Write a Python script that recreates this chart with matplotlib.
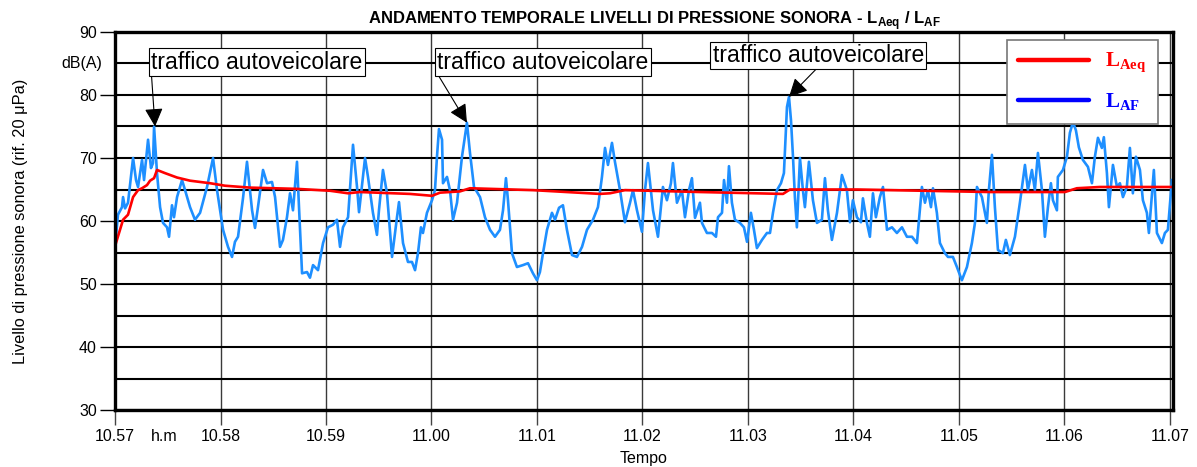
import matplotlib
matplotlib.use("Agg")
import matplotlib.pyplot as plt
from matplotlib.lines import Line2D

plt.rcParams['font.family'] = ['Liberation Sans', 'DejaVu Sans']
plt.rcParams['mathtext.fontset'] = 'custom'
plt.rcParams['mathtext.rm'] = 'Liberation Serif:bold'
plt.rcParams['mathtext.sf'] = 'Liberation Sans:bold'

# minuti dalle 10.57
t_af = [0.0, 0.028, 0.066, 0.076, 0.095, 0.123, 0.171, 0.199, 0.218, 0.256, 0.275, 0.313, 0.341,
        0.360, 0.370, 0.398, 0.427, 0.455, 0.493, 0.512, 0.540, 0.559, 0.588, 0.635, 0.664, 0.711,
        0.758, 0.806, 0.872, 0.929, 0.967, 1.024, 1.071, 1.109, 1.137, 1.166, 1.213, 1.251, 1.299,
        1.327, 1.355, 1.403, 1.441, 1.488, 1.517, 1.564, 1.592, 1.630, 1.659, 1.687, 1.725, 1.744,
        1.773, 1.820, 1.848, 1.877, 1.924, 1.972, 2.019, 2.066, 2.104, 2.133, 2.161, 2.209, 2.256,
        2.294, 2.313, 2.370, 2.398, 2.445, 2.483, 2.502, 2.540, 2.578, 2.626, 2.673, 2.692, 2.730,
        2.777, 2.815, 2.844, 2.872, 2.900, 2.919, 2.957, 3.005, 3.033, 3.052, 3.071, 3.100, 3.109,
        3.147, 3.175, 3.204, 3.242, 3.289, 3.336, 3.365, 3.403, 3.460, 3.507, 3.555, 3.602, 3.649,
        3.678, 3.706, 3.725, 3.763, 3.810, 3.867, 3.915, 3.962, 4.000, 4.028, 4.057, 4.095, 4.142,
        4.171, 4.209, 4.246, 4.284, 4.332, 4.379, 4.427, 4.474, 4.531, 4.578, 4.616, 4.645, 4.673,
        4.711, 4.739, 4.787, 4.834, 4.882, 4.910, 4.948, 4.995, 5.024, 5.052, 5.100, 5.147, 5.194,
        5.232, 5.270, 5.289, 5.327, 5.374, 5.403, 5.441, 5.469, 5.498, 5.545, 5.564, 5.611, 5.659,
        5.697, 5.716, 5.754, 5.773, 5.801, 5.820, 5.848, 5.877, 5.924, 5.962, 5.991, 6.028, 6.057,
        6.085, 6.133, 6.180, 6.209, 6.237, 6.275, 6.313, 6.341, 6.370, 6.389, 6.408, 6.427, 6.445,
        6.464, 6.493, 6.521, 6.540, 6.578, 6.616, 6.654, 6.701, 6.730, 6.758, 6.796, 6.844, 6.891,
        6.938, 6.967, 6.995, 7.033, 7.071, 7.090, 7.128, 7.156, 7.185, 7.213, 7.251, 7.280, 7.318,
        7.365, 7.412, 7.460, 7.507, 7.555, 7.602, 7.649, 7.678, 7.706, 7.735, 7.754, 7.791, 7.820,
        7.867, 7.896, 7.943, 7.981, 8.028, 8.076, 8.123, 8.152, 8.171, 8.218, 8.265, 8.284, 8.313,
        8.341, 8.370, 8.417, 8.445, 8.483, 8.531, 8.578, 8.626, 8.654, 8.692, 8.720, 8.749, 8.787,
        8.815, 8.844, 8.872, 8.891, 8.929, 8.938, 8.986, 9.024, 9.052, 9.081, 9.109, 9.137, 9.175,
        9.223, 9.261, 9.289, 9.318, 9.355, 9.374, 9.403, 9.422, 9.460, 9.498, 9.526, 9.555, 9.592,
        9.621, 9.649, 9.678, 9.716, 9.744, 9.782, 9.801, 9.848, 9.877, 9.924, 9.953, 9.981, 10.019]
laf = [55.9, 61.0, 62.2, 63.8, 62.0, 62.9, 70.0, 66.5, 65.4, 69.7, 66.5, 72.9, 68.4,
       69.2, 75.0, 67.6, 62.2, 59.7, 59.0, 57.5, 62.5, 60.6, 63.8, 66.5, 64.9, 62.2,
       60.2, 61.3, 65.4, 70.0, 64.9, 58.6, 55.9, 54.3, 56.7, 57.5, 63.6, 69.4, 61.7,
       58.9, 62.2, 68.1, 66.0, 66.2, 63.8, 55.9, 57.0, 60.6, 64.4, 61.7, 69.4, 62.2,
       51.7, 51.9, 51.0, 53.0, 52.2, 56.5, 59.0, 59.4, 60.2, 55.9, 59.0, 60.6, 72.1,
       65.4, 61.4, 70.0, 67.0, 61.3, 57.8, 61.7, 68.1, 64.4, 54.3, 60.6, 63.0, 56.5,
       53.5, 53.5, 52.2, 54.9, 59.0, 58.1, 61.3, 63.3, 64.9, 70.2, 74.6, 72.9, 66.0,
       67.0, 64.9, 60.2, 62.9, 70.2, 75.6, 70.8, 65.4, 63.8, 60.6, 58.6, 57.5, 58.6,
       61.7, 66.8, 63.3, 54.9, 52.7, 53.0, 53.3, 51.7, 50.6, 51.9, 54.9, 58.6, 61.3,
       60.2, 62.1, 62.5, 58.6, 54.6, 54.3, 55.9, 58.6, 60.2, 62.2, 67.0, 71.6, 68.9,
       72.4, 69.4, 64.9, 59.8, 62.9, 64.9, 61.7, 58.3, 64.9, 69.2, 61.7, 57.5, 65.4,
       63.3, 66.0, 69.2, 62.9, 64.9, 60.6, 64.9, 66.8, 60.5, 62.9, 59.7, 58.1, 58.1,
       57.5, 60.6, 61.3, 66.5, 62.9, 68.7, 62.9, 60.2, 59.7, 59.0, 56.7, 61.3, 58.6,
       55.7, 57.0, 58.1, 58.1, 61.3, 64.9, 66.0, 67.6, 78.1, 79.7, 76.0, 70.2, 63.8,
       59.0, 70.0, 64.9, 62.2, 69.4, 63.3, 59.7, 60.2, 66.8, 61.7, 57.0, 61.3, 67.3,
       64.9, 59.8, 63.3, 60.6, 59.8, 63.6, 59.7, 57.5, 64.4, 60.6, 63.8, 65.4, 58.6,
       59.0, 58.1, 59.0, 57.5, 57.5, 56.5, 65.4, 62.9, 64.9, 62.2, 65.2, 61.3, 56.5,
       54.9, 54.3, 54.3, 52.7, 50.6, 52.7, 56.5, 59.7, 65.4, 63.8, 59.7, 64.9, 70.5,
       62.2, 55.4, 54.9, 57.0, 54.6, 57.5, 62.9, 68.9, 64.9, 68.1, 64.9, 70.8, 64.9,
       57.5, 62.2, 66.0, 63.3, 61.7, 67.0, 68.1, 70.2, 74.0, 75.7, 74.4, 71.7, 69.7,
       68.6, 66.0, 70.2, 73.2, 71.6, 73.3, 67.6, 62.2, 68.9, 65.4, 66.0, 63.8, 65.4,
       71.6, 64.4, 70.2, 68.1, 63.3, 61.3, 58.1, 68.1, 58.1, 56.5, 58.1, 58.6, 66.5]

t_aeq = [0.0, 0.009, 0.047, 0.076, 0.123, 0.171, 0.218, 0.256, 0.303, 0.332, 0.370, 0.398,
         0.474, 0.588, 0.711, 0.900, 1.043, 1.280, 1.725, 2.038, 2.209, 2.322, 2.796, 3.005,
         3.081, 3.270, 3.365, 3.962, 4.597, 4.692, 4.834, 5.545, 6.332, 6.398, 7.033, 8.294,
         9.005, 9.118, 9.336, 10.019]
laeq = [56.0, 56.5, 58.6, 60.2, 61.0, 63.8, 64.9, 65.2, 65.7, 66.4, 66.8, 68.1,
        67.6, 66.9, 66.4, 66.0, 65.6, 65.3, 65.1, 64.8, 64.4, 64.6, 64.3, 64.0,
        64.5, 64.7, 65.2, 64.9, 64.3, 64.4, 64.9, 64.6, 64.3, 65.0, 65.0, 64.6,
        64.6, 65.2, 65.4, 65.4]

x_ticks = list(range(11))
x_labels = ['10.57', '10.58', '10.59', '11.00', '11.01', '11.02',
            '11.03', '11.04', '11.05', '11.06', '11.07']

# eventi annotati: (minuto, livello) del picco
eventi_t = [0.379, 3.336, 6.389]
eventi_db = [75.0, 75.6, 79.7]
etichetta = 'traffico autoveicolare'

fig = plt.figure(figsize=(11.97, 4.67), dpi=100)
ax = fig.add_axes([0.0961, 0.122, 0.8839, 0.8095])

ax.plot(t_af, laf, color='#1e8fff', lw=1.9, zorder=3)
ax.plot(t_aeq, laeq, color='red', lw=1.9, zorder=4)

ax.set_xlim(0, 10.03)
ax.set_ylim(30, 90)

ax.set_xticks(x_ticks)
ax.set_xticklabels(x_labels)
ax.set_yticks(range(30, 91, 10))
ax.set_yticks(range(35, 90, 10), minor=True)
ax.tick_params(axis='x', which='major', length=11, width=1, color='#444444',
               labelsize=11.5, pad=3)
ax.tick_params(axis='y', which='major', length=11, width=1, color='black',
               labelsize=11.5, pad=2)
ax.tick_params(axis='y', which='minor', length=0)

ax.yaxis.grid(True, which='both', color='black', lw=1.5)
ax.xaxis.grid(True, which='major', color='#3a3a3a', lw=1.0)
ax.set_axisbelow(True)
for s in ax.spines.values():
    s.set_linewidth(2.4)
    s.set_zorder(5)

ax.text(-0.012, 85, 'dB(A)', transform=ax.get_yaxis_transform(), ha='right',
        va='center', fontsize=11.5)
ax.text(0.47, -0.069, 'h.m', transform=ax.get_xaxis_transform(), ha='center',
        va='center', fontsize=11.5)

ax.set_xlabel('Tempo', fontsize=11.5, labelpad=5)
ax.set_ylabel('Livello di pressione sonora (rif. 20 μPa)', fontsize=11.8, labelpad=37)
ax.set_title(r'ANDAMENTO TEMPORALE LIVELLI DI PRESSIONE SONORA - L$_{\mathsf{Aeq}}$ / L$_{\mathsf{AF}}$',
             fontsize=12, fontweight='bold', pad=6, x=0.51)

box_t = [1.346, 4.057, 6.668]
box_db = [85.2, 85.2, 86.3]
rel = [(0, 0), (0, 0), (0.5, 0)]
for i in range(3):
    ax.annotate(etichetta, xy=(eventi_t[i], eventi_db[i]), xytext=(box_t[i], box_db[i]),
                ha='center', va='center', fontsize=16.5, zorder=6,
                bbox=dict(boxstyle='square,pad=0.1', fc='white', ec='black', lw=0.8),
                arrowprops=dict(arrowstyle='-|>', mutation_scale=28, color='black',
                                lw=0.8, relpos=rel[i], shrinkA=0, shrinkB=0))

handles = [Line2D([], [], color='red', lw=3.2, solid_capstyle='round'),
           Line2D([], [], color='blue', lw=3.2, solid_capstyle='round')]
leg = ax.legend(handles, [r'L$_{\mathrm{Aeq}}$', r'L$_{\mathrm{AF}}$'],
                loc='upper left', bbox_to_anchor=(0.843, 0.979), borderaxespad=0,
                prop={'family': 'Liberation Serif', 'weight': 'bold', 'size': 15},
                handlelength=3.4, handletextpad=0.75, labelspacing=0.75,
                borderpad=0.55, fancybox=False, framealpha=1, edgecolor='#777777')
leg.get_frame().set_linewidth(1.2)
leg.set_zorder(7)
for txt, c in zip(leg.get_texts(), ['red', 'blue']):
    txt.set_color(c)

fig.savefig('out.png', dpi=100)
